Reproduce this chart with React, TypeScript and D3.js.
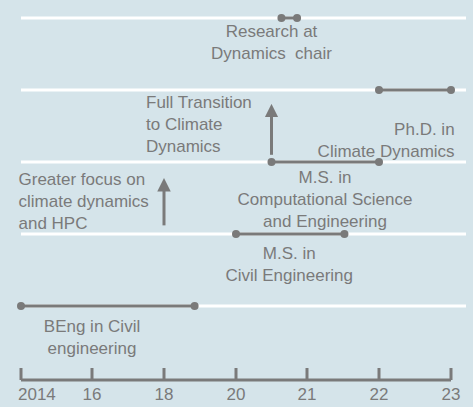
import React from "react";
import * as d3 from "d3";

const tickYears = [2014, 2016, 2018, 2020, 2021, 2022, 2023];
const tickLabels = ["2014", "16", "18", "20", "21", "22", "23"];
const rowLevels = [0, 1, 2, 3, 4];
const segStart = [2014, 2020, 2020.5, 2022, 2020.64];
const segEnd = [2018.85, 2021.52, 2022, 2023, 2020.86];
const segRow = [0, 1, 2, 3, 4];
const arrowYear = [2018, 2020.5];
const arrowFrom = [1.12, 2.1];
const arrowTo = [1.85, 2.88];

type Lbl = { lines: string[]; x: number; row: number; anchor: string; dy: number };
const labels: Lbl[] = [
  { lines: ["BEng in Civil", "engineering"], x: 2016, row: 0, anchor: "middle", dy: 26 },
  { lines: ["M.S. in", "Civil Engineering"], x: 2020.75, row: 1, anchor: "middle", dy: 25 },
  { lines: ["M.S. in", "Computational Science", "and Engineering"], x: 2021.25, row: 2, anchor: "middle", dy: 21 },
  { lines: ["Ph.D. in", "Climate Dynamics"], x: 2023.05, row: 3, anchor: "end", dy: 45 },
  { lines: ["Research at", "Dynamics  chair"], x: 2020.5, row: 4, anchor: "middle", dy: 19 },
  { lines: ["Greater focus on", "climate dynamics", "and HPC"], x: 2013.93, row: 2, anchor: "start", dy: 23 },
  { lines: ["Full Transition", "to Climate", "Dynamics"], x: 2017.5, row: 3, anchor: "start", dy: 18 },
];

export default function App() {
  const W = 473, H = 407;
  const x = d3.scaleLinear().domain(tickYears).range([21, 92, 164, 236, 307, 379, 451]);
  const y = d3.scaleLinear().domain([0, 4]).range([306, 18]);
  const grey = "#7a7a7a";
  const axisY = 380;
  return (
    <svg width={W} height={H} style={{ position: "absolute", left: 0, top: 0 }}
      fontFamily="Liberation Sans, Arial, sans-serif" fontSize={17}>
      <defs>
        <marker id="ah" viewBox="0 0 10 10" refX="5" refY="5" markerWidth="4.5" markerHeight="5" orient="auto">
          <path d="M0,0 L10,5 L0,10 z" fill={grey} />
        </marker>
      </defs>
      <rect width={W} height={H} fill="#d5e4ea" />
      {rowLevels.map((r) => (
        <line key={r} x1={x(2014)} x2={466} y1={y(r)} y2={y(r)} stroke="#fff" strokeWidth={3} />
      ))}
      {segStart.map((s, i) => (
        <g key={i}>
          <line x1={x(s)} x2={x(segEnd[i])} y1={y(segRow[i])} y2={y(segRow[i])} stroke={grey} strokeWidth={3} />
          <circle cx={x(s)} cy={y(segRow[i])} r={4} fill={grey} />
          <circle cx={x(segEnd[i])} cy={y(segRow[i])} r={4} fill={grey} />
        </g>
      ))}
      {arrowYear.map((a, i) => (
        <line key={i} x1={x(a)} x2={x(a)} y1={y(arrowFrom[i])} y2={y(arrowTo[i]) + 12}
          stroke={grey} strokeWidth={3} markerEnd="url(#ah)" />
      ))}
      {labels.map((l, i) => (
        <text key={i} x={x(l.x)} y={y(l.row) + l.dy} textAnchor={l.anchor} fill={grey}>
          {l.lines.map((t, j) => (
            <tspan key={j} x={x(l.x)} dy={j === 0 ? 0 : 22} style={{ whiteSpace: "pre" }}>{t}</tspan>
          ))}
        </text>
      ))}
      <line x1={x(2014)} x2={x(2023)} y1={axisY} y2={axisY} stroke={grey} strokeWidth={3} />
      {tickYears.map((t, i) => (
        <g key={t}>
          <line x1={x(t)} x2={x(t)} y1={axisY} y2={axisY - 12} stroke={grey} strokeWidth={3} />
          <text x={x(t)} y={axisY + 20} textAnchor={i === 0 ? "start" : "middle"} dx={i === 0 ? -3 : 0} fill={grey}>{tickLabels[i]}</text>
        </g>
      ))}
    </svg>
  );
}
